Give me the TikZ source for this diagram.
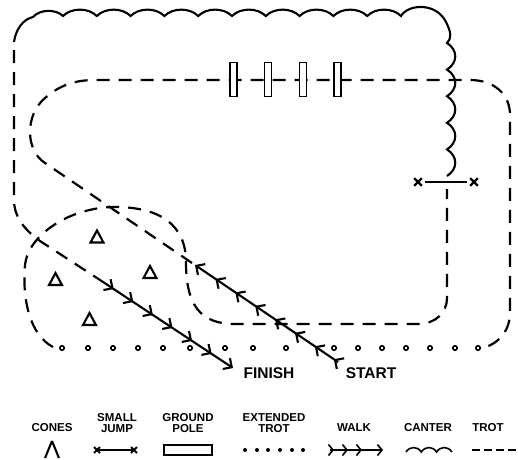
\documentclass[tikz,border=0pt]{standalone}
\usepackage{fontspec}
\setmainfont{Liberation Sans}
\usetikzlibrary{decorations.markings,arrows.meta}
\newcommand\chv{\arrow{Straight Barb[length=6.5pt,width=13pt]}}
\newcommand\lchv{\arrow{Straight Barb[length=4.5pt,width=11pt]}}
\begin{document}
\begin{tikzpicture}[x=1pt,y=-1pt,
  trot/.style={line width=2.2pt,dash pattern=on 13pt off 9pt},
  canter/.style={line width=2.1pt},
  walkline/.style={line width=2.1pt},
  cone/.style={line width=2.1pt},
  pole/.style={line width=1.5pt,fill=white},
  dotc/.style={line width=1.6pt,fill=white},
  lbl/.style={font=\bfseries\fontsize{11.5}{10.5}\selectfont,align=center,inner sep=0pt},
  bigl/.style={font=\bfseries\fontsize{15.5}{16}\selectfont,inner sep=0pt},
]
\useasboundingbox (0,0) rectangle (518,459);

% canter (outer top and right side)
\draw[canter] (14,42) .. controls (16,28) and (24,19) .. (33,17) .. controls (40,9) and (56,9) .. (63,16)
  \foreach \i in {1,...,10} { .. controls +(8.5,-8.5) and +(-8.5,-8.5) .. ++(33.8,0) }
  .. controls (408,4) and (436,2) .. (446,22) .. controls (451,32) and (452,38) .. (447,43)
  \foreach \i in {1,...,5} { .. controls +(11,7) and +(11,-7) .. ++(0,26.6) };

% small jump
\coordinate (jl) at (418,182);
\coordinate (jr) at (474,182);
\draw[line width=2.1pt] ([xshift=7pt]jl) -- ([xshift=-7pt]jr);
\foreach \c in {jl,jr} \draw[line width=2.3pt] ([shift={(-3.8,-3.8)}]\c) -- ([shift={(3.8,3.8)}]\c) ([shift={(-3.8,3.8)}]\c) -- ([shift={(3.8,-3.8)}]\c);

% trot: left outer lead-in to finish
\draw[trot] (14,50) -- (14,200) .. controls (14,215) and (22,228) .. (40,241) -- (97,278);

% trot: long loop over the poles
\draw[trot] (192,263) -- (45,163) .. controls (25,150) and (25,115) .. (45,98) .. controls (60,85) and (75,80) .. (95,80) -- (470,80) .. controls (495,80) and (510,95) .. (510,115) -- (510,312) .. controls (510,330) and (500,342) .. (486,347);

% trot: teardrop and return to jump
\draw[trot] (53,347) .. controls (30,335) and (22,300) .. (25,265) .. controls (28,235) and (70,207) .. (115,207) .. controls (160,207) and (186,225) .. (186,262) .. controls (186,305) and (200,324) .. (235,324) -- (418,324) .. controls (435,324) and (447,313) .. (447,298) -- (447,189);

% ground poles
\foreach \x/\n in {233.5/p1,268/p2,303/p3,337.5/p4}
  \draw[pole] (\x-3.4,62.5) rectangle (\x+3.4,96.5);

% extended trot
\foreach \x in {62,88,113,138,163,190,225,253,286,334,358,382,406,430,455,478}
  \draw[dotc] (\x,348) circle[radius=2.2];

% walk to finish
\draw[walkline,-{Straight Barb[length=6.5pt,width=13pt]},postaction={decorate},
  decoration={markings,
   mark=at position 20pt with {\chv}, mark=at position 43.5pt with {\chv},
   mark=at position 67pt with {\chv}, mark=at position 90.5pt with {\chv},
   mark=at position 114pt with {\chv}, mark=at position 137.5pt with {\chv}}]
  (97,278) -- (233,368);

% walk from start
\draw[walkline,-{Straight Barb[length=6.5pt,width=13pt]},postaction={decorate},
  decoration={markings,
   mark=at position 5pt with {\chv}, mark=at position 28pt with {\chv},
   mark=at position 52pt with {\chv}, mark=at position 76pt with {\chv},
   mark=at position 100pt with {\chv}, mark=at position 124pt with {\chv},
   mark=at position 148pt with {\chv}}]
  (338,362) -- (195,265);

% cones
\foreach \cx/\cy in {97/237,55.5/279.5,150/272.5,89.5/319.5}
  \draw[cone] (\cx,\cy-6.5) -- (\cx+6.5,\cy+5.5) -- (\cx-6.5,\cy+5.5) -- cycle;

% labels
\node[bigl] (finish) at (269,373) {FINISH};
\node[bigl] (start) at (371,373) {START};

% legend
\node[lbl] (lcones) at (52,428) {CONES};
\node[lbl] (ljump) at (117,423) {SMALL\\JUMP};
\node[lbl] (lpole) at (188,423) {GROUND\\POLE};
\node[lbl] (lext) at (274,423) {EXTENDED\\TROT};
\node[lbl] (lwalk) at (354,428) {WALK};
\node[lbl] (lcanter) at (428,428) {CANTER};
\node[lbl] (ltrot) at (488,428) {TROT};

\draw[cone] (52,441) -- (59,458) (52,441) -- (45,458);
\draw[line width=1.5pt] (97,450) -- (134,450);
\foreach \x in {97,134} \draw[line width=2pt] (\x-3,447) -- (\x+3,453) (\x-3,453) -- (\x+3,447);
\draw[line width=1.6pt] (164,445) rectangle (212,455);
\foreach \x in {245,257,268,280,292,303} \fill (\x,450) circle[radius=2];
\draw[line width=1.6pt,-{Straight Barb[length=4.5pt,width=11pt]},postaction={decorate},
  decoration={markings, mark=at position 4pt with {\lchv},
   mark=at position 18pt with {\lchv}, mark=at position 32pt with {\lchv}}]
  (330,450) -- (383,450);
\draw[line width=1.6pt] (406,452) \foreach \i in {1,2,3} { .. controls +(4,-6) and +(-4,-6) .. ++(15.3,0) };
\draw[line width=1.8pt,dash pattern=on 8pt off 4pt] (472,450) -- (516,450);
\end{tikzpicture}
\end{document}
